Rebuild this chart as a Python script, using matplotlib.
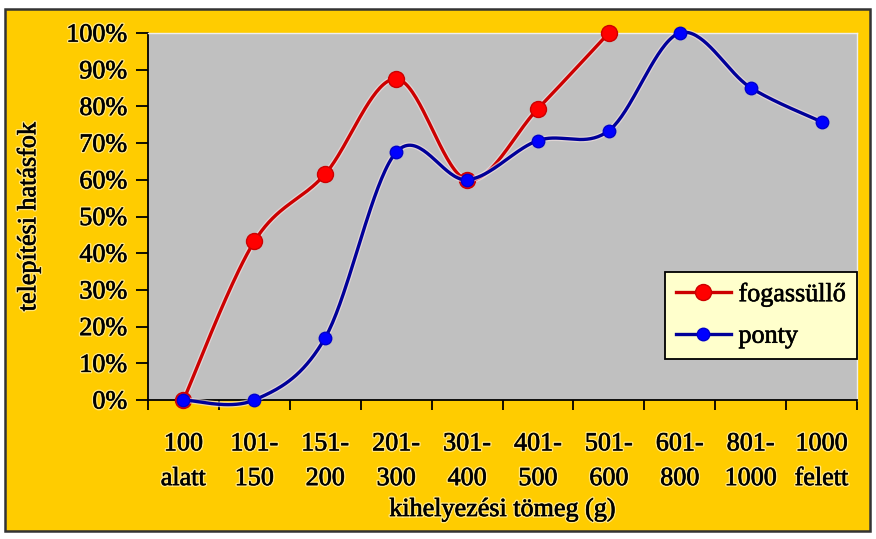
"""Telepítési hatásfok a kihelyezési tömeg függvényében (fogassüllő, ponty)."""
import numpy as np
import matplotlib
matplotlib.use("Agg")
import matplotlib.pyplot as plt
import matplotlib.patheffects as pe
from matplotlib.patches import Rectangle

# ---------------------------------------------------------------------------
# adatok
# ---------------------------------------------------------------------------
kategoriak = ["100\nalatt", "101-\n150", "151-\n200", "201-\n300", "301-\n400",
              "401-\n500", "501-\n600", "601-\n800", "801-\n1000", "1000\nfelett"]

fogassullo = [0.0, 43.2, 61.6, 87.5, 60.0, 79.4, 100.0]          # %
ponty = [0.0, 0.0, 17.0, 67.5, 60.0, 70.7, 73.4, 100.0, 85.1, 75.8]  # %

y_ticks = [0, 10, 20, 30, 40, 50, 60, 70, 80, 90, 100]


def excel_smooth(ys, n=40):
    """Excel-szerű simított vonal (Catmull-Rom Bezier)."""
    pts = np.column_stack([np.arange(len(ys), dtype=float), np.asarray(ys, float)])
    out = [pts[:1]]
    t = np.linspace(0, 1, n)[1:, None]
    for i in range(len(pts) - 1):
        p0 = pts[max(i - 1, 0)]
        p1 = pts[i]
        p2 = pts[i + 1]
        p3 = pts[min(i + 2, len(pts) - 1)]
        c1 = p1 + (p2 - p0) / 6
        c2 = p2 - (p3 - p1) / 6
        seg = ((1 - t) ** 3) * p1 + 3 * ((1 - t) ** 2) * t * c1 \
            + 3 * (1 - t) * t ** 2 * c2 + t ** 3 * p2
        out.append(seg)
    xy = np.vstack(out)
    return xy[:, 0], xy[:, 1]


FS = 18.8
plt.rcParams["font.family"] = ["Liberation Serif", "DejaVu Serif"]
# a szöveg kissé vastagított, halvány sárga fénnyel
glow = [pe.Stroke(linewidth=2.4, foreground="#FFE680"),
        pe.Stroke(linewidth=0.45, foreground="black"), pe.Normal()]

fig = plt.figure(figsize=(8.76, 5.39), dpi=100, facecolor="white")

# sárga háttér kerettel
fig.patches.append(Rectangle((5 / 876, 8 / 539), 865 / 876, 522 / 539,
                             transform=fig.transFigure, facecolor="#FFCC00",
                             edgecolor="#333333", linewidth=1.8, zorder=-10))

ax = fig.add_axes([148 / 876, 139 / 539, 709 / 876, 367 / 539])
ax.set_zorder(1)
ax.set_facecolor("#C0C0C0")

halo = [pe.Stroke(linewidth=4.2, foreground="#F0E0E0", alpha=0.7), pe.Normal()]

x_r, y_r = excel_smooth(fogassullo)
ax.plot(x_r, y_r, color="#CC0000", lw=2.4, path_effects=halo, zorder=3, clip_on=False)
ax.plot(np.arange(len(fogassullo)), fogassullo, ls="none", marker="o",
        ms=11.5, mfc="#FF0000", mec="#CC0000", mew=1, zorder=4, clip_on=False)

x_b, y_b = excel_smooth(ponty)
ax.plot(x_b, y_b, color="#000099", lw=2.4, path_effects=halo, zorder=5, clip_on=False)
ax.plot(np.arange(len(ponty)), ponty, ls="none", marker="o",
        ms=9, mfc="#0000FF", mec="#0000CC", mew=1, zorder=6, clip_on=False)

# legenda proxy
ax.plot([], [], color="#CC0000", lw=2.4, marker="o", ms=11.5,
        mfc="#FF0000", mec="#CC0000", label="fogassüllő")
ax.plot([], [], color="#000099", lw=2.4, marker="o", ms=9,
        mfc="#0000FF", mec="#0000CC", label="ponty")

ax.set_xlim(-0.5, len(kategoriak) - 0.5)
ax.set_ylim(0, 100)
ax.set_yticks(y_ticks)
ax.set_yticklabels([f"{v}%" for v in y_ticks])
ax.set_xticks(np.arange(len(kategoriak)))
ax.set_xticklabels(kategoriak, linespacing=1.75)
ax.set_xticks(np.arange(len(kategoriak) + 1) - 0.5, minor=True)
ax.tick_params(axis="x", which="major", length=0, pad=24, labelsize=FS)
ax.tick_params(axis="x", which="minor", length=7, width=1.3, direction="out")
ax.tick_params(axis="y", length=9, width=1.3, direction="out", labelsize=FS, pad=6)
for lab in ax.get_xticklabels() + ax.get_yticklabels():
    lab.set_path_effects(glow)

for side in ["top", "right"]:
    ax.spines[side].set_color("#EEEEEE")
    ax.spines[side].set_linewidth(1)
ax.spines["left"].set_linewidth(1.3)
ax.spines["bottom"].set_linewidth(1.3)

ax.set_xlabel("kihelyezési tömeg (g)", fontsize=FS, path_effects=glow)
ax.set_ylabel("telepítési hatásfok", fontsize=FS, path_effects=glow)
ax.xaxis.set_label_coords(0.5, -0.268)
ax.yaxis.set_label_coords(-0.152, 0.5)

leg = ax.legend(loc="upper left", bbox_to_anchor=(0.729, 0.349), borderaxespad=0,
                fontsize=FS, frameon=True, fancybox=False, edgecolor="black",
                facecolor="#FFFFCC", framealpha=1, handlelength=2.1,
                borderpad=0.42, labelspacing=0.7, handletextpad=0.3)
leg.get_frame().set_linewidth(1.3)
for txt in leg.get_texts():
    txt.set_path_effects([pe.Stroke(linewidth=0.45, foreground="black"), pe.Normal()])

fig.savefig("out.png", dpi=100)
